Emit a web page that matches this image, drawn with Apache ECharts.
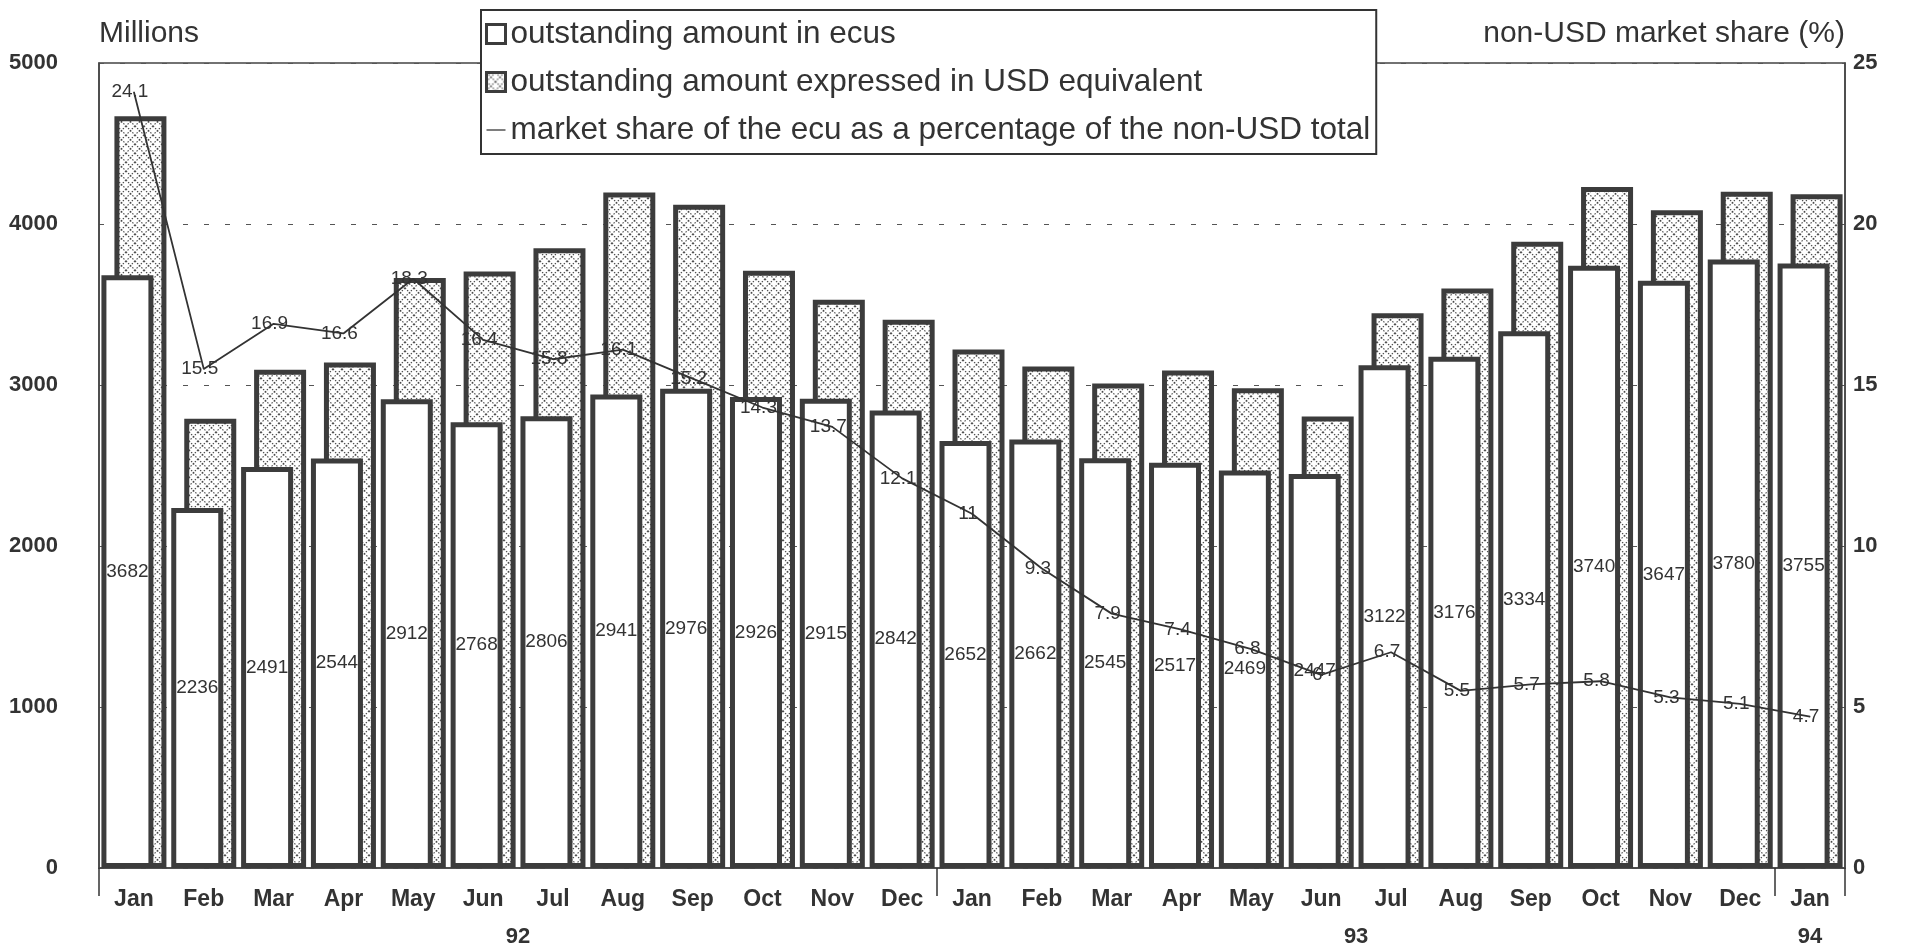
<!DOCTYPE html>
<html>
<head>
<meta charset="utf-8">
<title>ecu market share</title>
<script src="https://cdn.jsdelivr.net/npm/echarts@6/dist/echarts.min.js"></script>
<style>
  html, body { margin: 0; padding: 0; background: #fff; }
  #chart { width: 1910px; height: 944px; }
</style>
</head>
<body>
<div id="chart"></div>
<script>
  // month categories, Jan 92 .. Jan 94
  const months = ['Jan','Feb','Mar','Apr','May','Jun','Jul','Aug','Sep','Oct','Nov','Dec',
                  'Jan','Feb','Mar','Apr','May','Jun','Jul','Aug','Sep','Oct','Nov','Dec','Jan'];
  const years = ['92', '93', '94'];
  const monthsPerYear = [12, 12, 1];

  // outstanding amount in ecus (millions)
  const ecuValues = [3682, 2236, 2491, 2544, 2912, 2768, 2806, 2941, 2976, 2926, 2915, 2842,
                     2652, 2662, 2545, 2517, 2469, 2447, 3122, 3176, 3334, 3740, 3647, 3780, 3755];
  // outstanding amount in USD equivalent (millions)
  const usdValues = [4670, 2790, 3095, 3140, 3665, 3705, 3850, 4195, 4120, 3710, 3530, 3405,
                     3220, 3115, 3010, 3090, 2980, 2805, 3445, 3600, 3890, 4230, 4085, 4200, 4185];
  // ecu share of non-USD total (%)
  const sharePct = [24.1, 15.5, 16.9, 16.6, 18.3, 16.4, 15.8, 16.1, 15.2, 14.3, 13.7, 12.1,
                    11, 9.3, 7.9, 7.4, 6.8, 6, 6.7, 5.5, 5.7, 5.8, 5.3, 5.1, 4.7];

  const seriesNames = [
    'outstanding amount in ecus',
    'outstanding amount expressed in USD equivalent',
    'market share of the ecu as a percentage of the non-USD total'
  ];

  // year groups under the month labels
  const yearBounds = [0];
  const yearCenters = [];
  monthsPerYear.forEach((n) => {
    const start = yearBounds[yearBounds.length - 1];
    yearCenters.push(start + n / 2);
    yearBounds.push(start + n);
  });

  function makeHatch() {
    const c = document.createElement('canvas');
    c.width = 9;
    c.height = 9;
    const ctx = c.getContext('2d');
    ctx.fillStyle = '#fff';
    ctx.fillRect(0, 0, 9, 9);
    ctx.strokeStyle = '#4a4a4a';
    ctx.lineWidth = 1.2;
    ctx.setLineDash([1.5, 1.5]);
    ctx.beginPath();
    ctx.moveTo(0, 0); ctx.lineTo(9, 9);
    ctx.moveTo(9, 0); ctx.lineTo(0, 9);
    ctx.stroke();
    return c;
  }

  const font = "'Liberation Sans', Arial, sans-serif";
  const ink = '#333';
  const edge = '#3c3c3c';

  const chart = echarts.init(document.getElementById('chart'));

  const option = {
    backgroundColor: '#fff',
    animation: false,
    textStyle: { fontFamily: font, color: ink },
    legend: {
      orient: 'vertical',
      left: 481,
      top: 10,
      padding: [8, 6, 8, 4],
      itemGap: 16,
      itemWidth: 19,
      itemHeight: 19,
      backgroundColor: '#fff',
      borderColor: ink,
      borderWidth: 2,
      borderRadius: 0,
      textStyle: { fontSize: 31.5, lineHeight: 30, color: ink, fontFamily: font },
      itemStyle: { borderWidth: 3 },
      data: [
        { name: seriesNames[0], icon: 'rect' },
        { name: seriesNames[1], icon: 'rect' },
        { name: seriesNames[2], icon: 'path://M0 0H24V1.6H0Z', itemStyle: { color: ink, borderWidth: 0 } }
      ]
    },
    grid: {
      left: 99,
      right: 65,
      top: 63,
      bottom: 76,
      show: true,
      borderColor: '#444',
      borderWidth: 1.5,
      outerBoundsMode: 'none'
    },
    xAxis: [{
      type: 'category',
      data: months,
      axisLine: { lineStyle: { color: '#444', width: 1.5 } },
      axisTick: { show: false },
      axisLabel: { interval: 0, margin: 20, fontSize: 23, fontWeight: 'bold', color: ink }
    }, {
      type: 'value',
      position: 'bottom',
      offset: 44,
      min: 0,
      max: months.length,
      axisLine: { show: false },
      splitLine: { show: false },
      axisTick: {
        show: true,
        customValues: yearBounds,
        length: 28,
        lineStyle: { color: ink, width: 1.5 }
      },
      axisLabel: {
        customValues: yearCenters,
        formatter: (v) => years[yearCenters.indexOf(v)],
        margin: 14,
        fontSize: 22,
        fontWeight: 'bold',
        color: ink
      }
    }],
    yAxis: [{
      type: 'value',
      min: 0,
      max: 5000,
      interval: 1000,
      name: 'Millions',
      nameLocation: 'end',
      nameGap: 29,
      nameTextStyle: { fontSize: 30, color: ink, align: 'left', verticalAlign: 'middle' },
      axisLine: { show: true, lineStyle: { color: '#444', width: 1.5 } },
      axisTick: { show: false },
      axisLabel: { margin: 41, fontSize: 22, fontWeight: 'bold', color: ink, formatter: (v) => String(v) },
      splitLine: { lineStyle: { color: '#555', type: [5, 16], width: 1 } }
    }, {
      type: 'value',
      min: 0,
      max: 25,
      interval: 5,
      name: 'non-USD market share (%)',
      nameLocation: 'end',
      nameGap: 29,
      nameTextStyle: { fontSize: 30, color: ink, align: 'right', verticalAlign: 'middle' },
      axisLine: { show: true, lineStyle: { color: '#444', width: 1.5 } },
      axisTick: { show: false },
      axisLabel: { margin: 8, fontSize: 22, fontWeight: 'bold', color: ink, formatter: (v) => String(v) },
      splitLine: { show: false }
    }],
    series: [{
      name: seriesNames[0],
      type: 'bar',
      data: ecuValues,
      barWidth: 52,
      barGap: '-75%',
      z: 3,
      itemStyle: { color: '#fff', borderColor: edge, borderWidth: 5 },
      label: {
        show: true,
        position: 'inside',
        fontSize: 19,
        fontFamily: font,
        color: ink
      }
    }, {
      name: seriesNames[1],
      type: 'bar',
      data: usdValues,
      barWidth: 52,
      z: 2,
      itemStyle: {
        color: { image: makeHatch(), repeat: 'repeat' },
        borderColor: edge,
        borderWidth: 5
      }
    }, {
      name: seriesNames[2],
      type: 'line',
      yAxisIndex: 1,
      data: sharePct,
      symbol: 'circle',
      symbolSize: 1,
      showSymbol: true,
      z: 5,
      lineStyle: { color: ink, width: 1.8 },
      itemStyle: { color: ink },
      label: {
        show: true,
        position: 'inside',
        offset: [-4, 0],
        fontSize: 19,
        fontFamily: font,
        color: ink
      }
    }]
  };

  chart.setOption(option);
</script>
</body>
</html>
